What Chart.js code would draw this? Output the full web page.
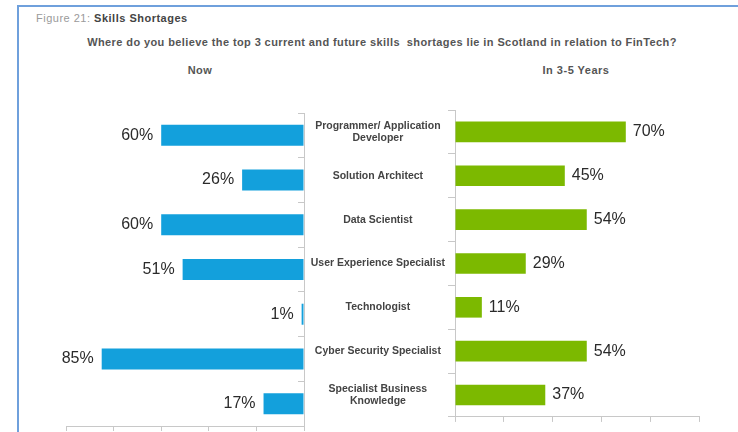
<!DOCTYPE html>
<html>
<head>
<meta charset="utf-8">
<script src="https://cdn.jsdelivr.net/npm/chart.js@4"></script>
<style>
  html, body { margin: 0; padding: 0; background: #fff; overflow: hidden; }
  #wrap { position: relative; width: 738px; height: 432px; overflow: hidden; font-family: "Liberation Sans", Arial, sans-serif; }
  #frame { position: absolute; left: 17px; top: 5px; width: 740px; height: 440px; border-left: 2px solid #6fa0dc; border-top: 2px solid #6fa0dc; }
  .txt { position: absolute; white-space: nowrap; }
  canvas { position: absolute; left: 0; top: 0; }
</style>
</head>
<body>
<div id="wrap">
  <div id="frame"></div>
  <div class="txt" style="left:36px; top:12px; font-size:11px; letter-spacing:0.5px; color:#9a9a9a;">Figure 21: <b style="color:#444;">Skills Shortages</b></div>
  <div class="txt" style="left:0; width:764px; text-align:center; top:36px; font-size:11px; letter-spacing:0.4px; font-weight:bold; color:#555;">Where do you believe the top 3 current and future skills&nbsp; shortages lie in Scotland in relation to FinTech?</div>
  <div class="txt" style="left:160px; width:80px; text-align:center; top:64px; font-size:11px; letter-spacing:0.5px; font-weight:bold; color:#555;">Now</div>
  <div class="txt" style="left:526px; width:100px; text-align:center; top:64px; font-size:11px; letter-spacing:0.5px; font-weight:bold; color:#555;">In 3-5 Years</div>
  <canvas id="leftChart" width="738" height="432"></canvas>
  <canvas id="rightChart" width="738" height="432"></canvas>
</div>
<script>
const categories = [
  ["Programmer/ Application", "Developer"],
  "Solution Architect",
  "Data Scientist",
  "User Experience Specialist",
  "Technologist",
  "Cyber Security Specialist",
  ["Specialist Business", "Knowledge"]
];
const nowValues = [60, 26, 60, 51, 1, 85, 17];
const futureValues = [70, 45, 54, 29, 11, 54, 37];

// bar-end value labels
const valueLabels = {
  id: "valueLabels",
  afterDatasetsDraw(chart, args, opts) {
    const ctx = chart.ctx;
    const meta = chart.getDatasetMeta(0);
    const data = chart.data.datasets[0].data;
    ctx.save();
    ctx.font = "16px 'Liberation Sans', Arial, sans-serif";
    ctx.fillStyle = "#2a2a2a";
    ctx.textBaseline = "middle";
    ctx.textAlign = opts.side === "left" ? "right" : "left";
    meta.data.forEach((bar, i) => {
      const x = opts.side === "left" ? bar.x - 8 : bar.x + 7;
      ctx.fillText(data[i] + "%", x, bar.y);
    });
    ctx.restore();
  }
};

const axisColor = "#c8c8c8";

new Chart(document.getElementById("leftChart"), {
  type: "bar",
  data: {
    labels: categories,
    datasets: [{ data: nowValues, backgroundColor: "#13a0dc", barPercentage: 0.47, categoryPercentage: 1 }]
  },
  options: {
    indexAxis: "y",
    responsive: false,
    animation: false,
    layout: { padding: { left: 66, right: 434, top: 113, bottom: 6 } },
    plugins: { legend: { display: false }, tooltip: { enabled: false }, valueLabels: { side: "left" } },
    scales: {
      x: {
        reverse: true, min: 0, max: 100,
        ticks: { display: false, stepSize: 20 },
        grid: { drawOnChartArea: false, tickLength: 5, color: axisColor },
        border: { color: axisColor },
        afterFit(s) { s.height = 0; }
      },
      y: {
        position: "right",
        ticks: { display: false },
        grid: { drawOnChartArea: false, tickLength: -6, color: axisColor },
        border: { color: axisColor },
        afterFit(s) { s.width = 0; }
      }
    }
  },
  plugins: [valueLabels]
});

new Chart(document.getElementById("rightChart"), {
  type: "bar",
  data: {
    labels: categories,
    datasets: [{ data: futureValues, backgroundColor: "#7cb900", barPercentage: 0.47, categoryPercentage: 1 }]
  },
  options: {
    indexAxis: "y",
    responsive: false,
    animation: false,
    layout: { padding: { left: 305, right: 39, top: 110, bottom: 9 } },
    plugins: { legend: { display: false }, tooltip: { enabled: false }, valueLabels: { side: "right" } },
    scales: {
      x: {
        min: 0, max: 100,
        ticks: { display: false, stepSize: 20 },
        grid: { drawOnChartArea: false, tickLength: 5, color: axisColor },
        border: { color: axisColor },
        afterFit(s) { s.height = 0; }
      },
      y: {
        ticks: {
          crossAlign: "center", padding: 3, color: "#444",
          font: { family: "'Liberation Sans', Arial, sans-serif", size: 10.5, weight: "bold", lineHeight: 1.15 }
        },
        grid: { drawOnChartArea: false, tickLength: 7, color: axisColor },
        border: { color: axisColor },
        afterFit(s) { s.width = 150; }
      }
    }
  },
  plugins: [valueLabels]
});
</script>
</body>
</html>
